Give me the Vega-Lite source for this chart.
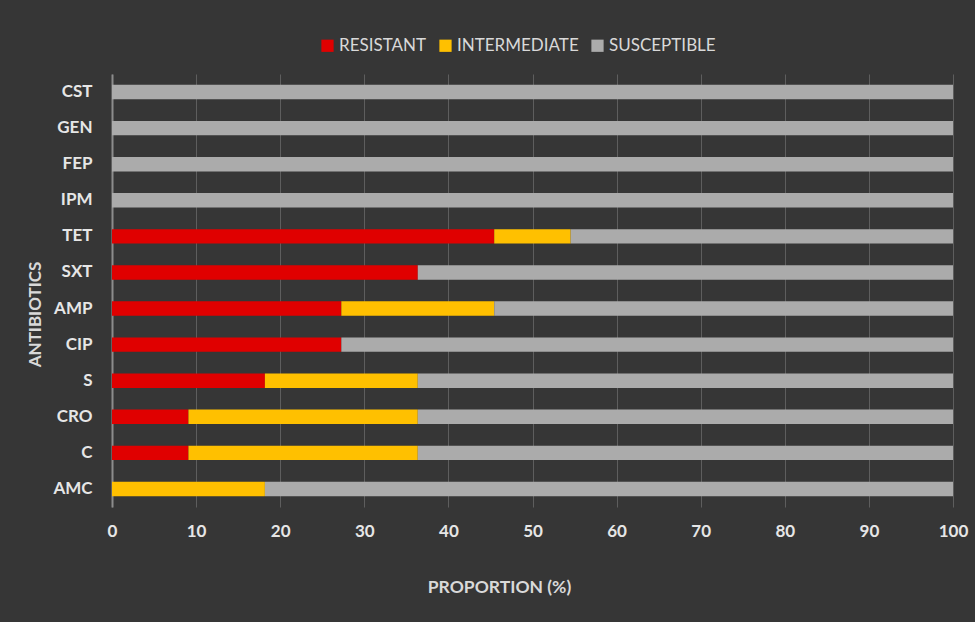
{
  "$schema": "https://vega.github.io/schema/vega-lite/v6.json",
  "width": 841,
  "height": 433,
  "autosize": "none",
  "padding": {"left": 112, "top": 74, "right": 22, "bottom": 115},
  "background": "#363636",
  "config": {
    "view": {"stroke": null},
    "font": "Lato"
  },
  "data": {
    "values": [
      {"antibiotic": "CST", "category": "SUSCEPTIBLE", "value": 100},
      {"antibiotic": "GEN", "category": "SUSCEPTIBLE", "value": 100},
      {"antibiotic": "FEP", "category": "SUSCEPTIBLE", "value": 100},
      {"antibiotic": "IPM", "category": "SUSCEPTIBLE", "value": 100},
      {"antibiotic": "TET", "category": "RESISTANT", "value": 45.45},
      {"antibiotic": "TET", "category": "INTERMEDIATE", "value": 9.09},
      {"antibiotic": "TET", "category": "SUSCEPTIBLE", "value": 45.46},
      {"antibiotic": "SXT", "category": "RESISTANT", "value": 36.36},
      {"antibiotic": "SXT", "category": "SUSCEPTIBLE", "value": 63.64},
      {"antibiotic": "AMP", "category": "RESISTANT", "value": 27.27},
      {"antibiotic": "AMP", "category": "INTERMEDIATE", "value": 18.18},
      {"antibiotic": "AMP", "category": "SUSCEPTIBLE", "value": 54.55},
      {"antibiotic": "CIP", "category": "RESISTANT", "value": 27.27},
      {"antibiotic": "CIP", "category": "SUSCEPTIBLE", "value": 72.73},
      {"antibiotic": "S", "category": "RESISTANT", "value": 18.18},
      {"antibiotic": "S", "category": "INTERMEDIATE", "value": 18.18},
      {"antibiotic": "S", "category": "SUSCEPTIBLE", "value": 63.64},
      {"antibiotic": "CRO", "category": "RESISTANT", "value": 9.09},
      {"antibiotic": "CRO", "category": "INTERMEDIATE", "value": 27.27},
      {"antibiotic": "CRO", "category": "SUSCEPTIBLE", "value": 63.64},
      {"antibiotic": "C", "category": "RESISTANT", "value": 9.09},
      {"antibiotic": "C", "category": "INTERMEDIATE", "value": 27.27},
      {"antibiotic": "C", "category": "SUSCEPTIBLE", "value": 63.64},
      {"antibiotic": "AMC", "category": "INTERMEDIATE", "value": 18.18},
      {"antibiotic": "AMC", "category": "SUSCEPTIBLE", "value": 81.82}
    ]
  },
  "transform": [
    {"calculate": "indexof(['RESISTANT','INTERMEDIATE','SUSCEPTIBLE'], datum.category)", "as": "stackOrder"}
  ],
  "mark": {"type": "bar"},
  "encoding": {
    "y": {
      "field": "antibiotic",
      "type": "nominal",
      "sort": ["CST", "GEN", "FEP", "IPM", "TET", "SXT", "AMP", "CIP", "S", "CRO", "C", "AMC"],
      "scale": {"paddingInner": 0.6, "paddingOuter": 0.3},
      "axis": {
        "title": "ANTIBIOTICS",
        "titleFont": "Lato",
        "titleFontSize": 17,
        "titleFontWeight": "bold",
        "titleColor": "#D9D9D9",
        "titlePadding": 8,
        "titleY": 240,
        "labelFont": "Lato",
        "labelFontSize": 17,
        "labelFontWeight": "bold",
        "labelColor": "#E6E6E6",
        "labelPadding": 20,
        "ticks": false,
        "domainColor": "#8C8C8C",
        "domainWidth": 2
      }
    },
    "x": {
      "field": "value",
      "type": "quantitative",
      "stack": "zero",
      "scale": {"domain": [0, 100], "nice": false},
      "axis": {
        "title": "PROPORTION (%)",
        "titleFont": "Lato",
        "titleFontSize": 17.5,
        "titleFontWeight": "bold",
        "titleColor": "#D9D9D9",
        "titlePadding": 39,
        "titleX": 387,
        "values": [0, 10, 20, 30, 40, 50, 60, 70, 80, 90, 100],
        "labelFont": "Lato",
        "labelFontSize": 17,
        "labelFontWeight": "bold",
        "labelColor": "#E6E6E6",
        "labelPadding": 16,
        "labelFlush": false,
        "ticks": false,
        "domain": false,
        "grid": true,
        "gridColor": "#5E5E5E",
        "gridWidth": 1
      }
    },
    "color": {
      "field": "category",
      "type": "nominal",
      "scale": {
        "domain": ["RESISTANT", "INTERMEDIATE", "SUSCEPTIBLE"],
        "range": ["#E00000", "#FFC000", "#ABABAB"]
      },
      "legend": {
        "title": null,
        "orient": "none",
        "direction": "horizontal",
        "legendX": 207,
        "legendY": -37,
        "symbolType": "square",
        "symbolSize": 150,
        "symbolStrokeWidth": 0,
        "labelFont": "Lato",
        "labelFontSize": 17,
        "labelColor": "#D9D9D9",
        "labelOffset": 3,
        "columnPadding": 10
      }
    },
    "order": {"field": "stackOrder", "type": "quantitative"}
  }
}
